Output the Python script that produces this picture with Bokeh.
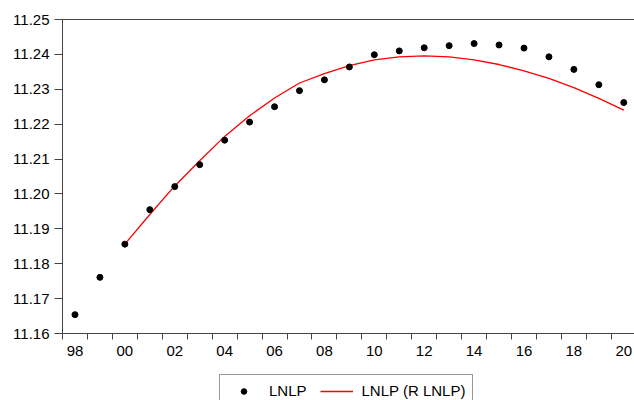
from bokeh.plotting import figure
from bokeh.layouts import column
from bokeh.models import (FixedTicker, LinearAxis, Legend, LegendItem, Range1d,
                          ColumnDataSource)
from bokeh.embed import file_html
from bokeh.resources import INLINE

# ---- data ----
years = [1998, 1999, 2000, 2001, 2002, 2003, 2004, 2005, 2006, 2007, 2008,
         2009, 2010, 2011, 2012, 2013, 2014, 2015, 2016, 2017, 2018, 2019, 2020]
lnlp = [11.1654, 11.1761, 11.1856, 11.1955, 11.2021, 11.2084, 11.2154, 11.2206,
        11.2250, 11.2296, 11.2327, 11.2364, 11.2399, 11.2410, 11.2419, 11.2425,
        11.2431, 11.2427, 11.2418, 11.2393, 11.2357, 11.2313, 11.2262]
fit_years = [2000, 2001, 2002, 2003, 2004, 2005, 2006, 2007, 2008, 2009, 2010,
             2011, 2012, 2013, 2014, 2015, 2016, 2017, 2018, 2019, 2020]
fit_vals = [11.1856, 11.1941, 11.2023, 11.2095, 11.2165, 11.2224, 11.2275, 11.2318,
            11.2345, 11.2368, 11.2384, 11.2393, 11.2396, 11.2393, 11.2384, 11.2371,
            11.2353, 11.2331, 11.2305, 11.2274, 11.2240]
y_ticks = [11.16, 11.17, 11.18, 11.19, 11.20, 11.21, 11.22, 11.23, 11.24, 11.25]
x_label_years = [1998, 2000, 2002, 2004, 2006, 2008, 2010, 2012, 2014, 2016, 2018, 2020]
x_labels = ["98", "00", "02", "04", "06", "08", "10", "12", "14", "16", "18", "20"]
legend_labels = ["LNLP", "LNLP (R LNLP)"]

FONT = "Liberation Sans"
AX = "#444444"

p = figure(width=634, height=362, output_backend="svg", toolbar_location=None,
           x_range=Range1d(1997.5, 2020.43), y_range=Range1d(11.16, 11.25),
           min_border_left=62, min_border_right=0, min_border_top=19,
           min_border_bottom=29, x_axis_type=None, y_axis_type=None)
p.outline_line_color = None
p.xgrid.visible = False
p.ygrid.visible = False
p.background_fill_color = "white"
p.border_fill_color = "white"

# left axis
ya = LinearAxis(ticker=FixedTicker(ticks=y_ticks, minor_ticks=[]))
ya.major_label_overrides = {t: f"{t:.2f}" for t in y_ticks}
ya.major_tick_out = 8
ya.major_tick_in = 0
ya.major_label_standoff = 5
ya.axis_line_color = AX
ya.major_tick_line_color = AX
ya.major_label_text_font = FONT
ya.major_label_text_font_size = "15px"
ya.major_label_text_color = "black"
p.add_layout(ya, "left")

# bottom axis
minor = [y - 0.5 for y in years] + [2020.5]
xa = LinearAxis(ticker=FixedTicker(ticks=x_label_years, minor_ticks=minor))
xa.major_label_overrides = dict(zip(x_label_years, x_labels))
xa.major_tick_out = 0
xa.major_tick_in = 0
xa.minor_tick_out = 6
xa.minor_tick_in = 0
xa.major_label_standoff = 6
xa.axis_line_color = AX
xa.minor_tick_line_color = AX
xa.major_label_text_font = FONT
xa.major_label_text_font_size = "15px"
xa.major_label_text_color = "black"
p.add_layout(xa, "below")

# top border line
ta = LinearAxis(ticker=FixedTicker(ticks=[], minor_ticks=[]))
ta.major_label_text_font_size = "0px"
ta.major_tick_line_color = None
ta.minor_tick_line_color = None
ta.axis_line_color = AX
p.add_layout(ta, "above")

src_pts = ColumnDataSource(dict(x=years, y=lnlp))
src_fit = ColumnDataSource(dict(x=fit_years, y=fit_vals))

p.line("x", "y", source=src_fit, line_color="#FF0000", line_width=1.3)
p.scatter("x", "y", source=src_pts, size=6, marker="circle",
          fill_color="black", line_color="black")

# ---- legend strip: same series, drawn out of view, used only as legend keys ----
q = figure(width=634, height=38, output_backend="svg", toolbar_location=None,
           min_border_left=0, min_border_right=0, min_border_top=0,
           min_border_bottom=0, x_axis_type=None, y_axis_type=None,
           x_range=Range1d(0, 1), y_range=Range1d(0, 1))
q.outline_line_color = None
q.xgrid.visible = False
q.ygrid.visible = False
q.border_fill_color = "white"
q.background_fill_color = "white"
sc_key = q.scatter("x", "y", source=src_pts, size=5, marker="circle",
                   fill_color="black", line_color="black")
ln_key = q.line("x", "y", source=src_fit, line_color="#FF0000", line_width=1.3)

legend = Legend(items=[LegendItem(label=legend_labels[0], renderers=[sc_key]),
                       LegendItem(label=legend_labels[1], renderers=[ln_key])],
                orientation="horizontal", location=(157, -7))
legend.glyph_width = 33
legend.glyph_height = 14
legend.label_height = 14
legend.label_standoff = 9
legend.spacing = 13
legend.padding = 7
legend.margin = 0
legend.border_line_color = "#333333"
legend.border_line_width = 1
legend.background_fill_color = "white"
legend.background_fill_alpha = 1
legend.label_text_font = FONT
legend.label_text_font_size = "15px"
legend.label_text_color = "black"
q.add_layout(legend, "center")

layout = column(p, q, spacing=0)
open("out.html", "w").write(file_html(layout, INLINE))
